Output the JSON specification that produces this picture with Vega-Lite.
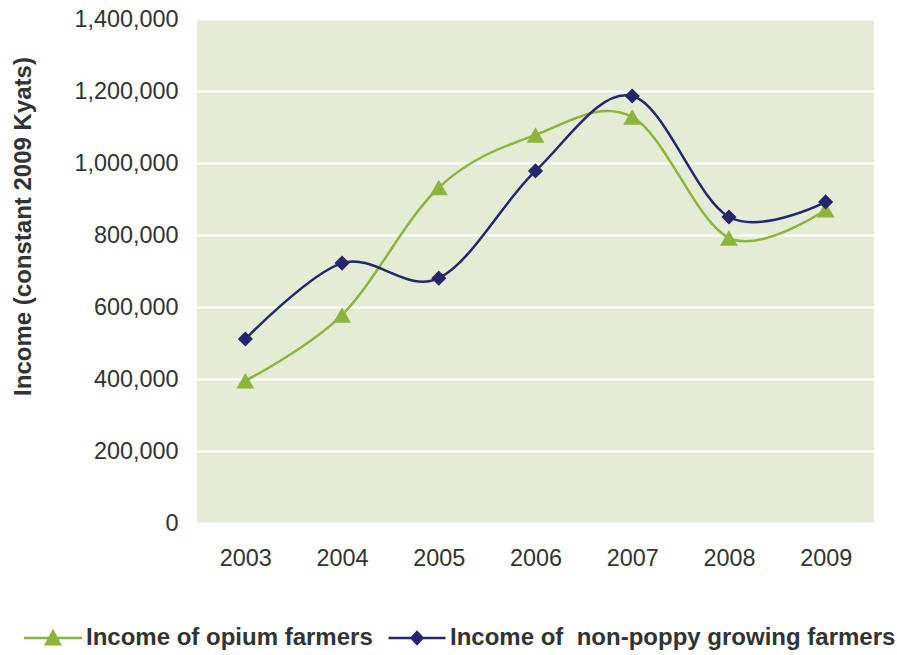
{
  "$schema": "https://vega.github.io/schema/vega-lite/v6.json",
  "width": 677,
  "height": 504,
  "autosize": "none",
  "padding": {"left": 197, "top": 19, "right": 23, "bottom": 132},
  "background": "white",
  "view": {"fill": "#E4ECD6", "stroke": null},
  "config": {
    "font": "Liberation Sans",
    "axis": {"labelColor": "#333333", "titleColor": "#333333"}
  },
  "data": {
    "values": [
      {"year": "2003", "series": "Income of opium farmers", "value": 395000},
      {"year": "2004", "series": "Income of opium farmers", "value": 578000},
      {"year": "2005", "series": "Income of opium farmers", "value": 932000},
      {"year": "2006", "series": "Income of opium farmers", "value": 1078000},
      {"year": "2007", "series": "Income of opium farmers", "value": 1128000},
      {"year": "2008", "series": "Income of opium farmers", "value": 792000},
      {"year": "2009", "series": "Income of opium farmers", "value": 870000},
      {"year": "2003", "series": "Income of\u00a0 non-poppy growing farmers", "value": 511000},
      {"year": "2004", "series": "Income of\u00a0 non-poppy growing farmers", "value": 722000},
      {"year": "2005", "series": "Income of\u00a0 non-poppy growing farmers", "value": 680000},
      {"year": "2006", "series": "Income of\u00a0 non-poppy growing farmers", "value": 978000},
      {"year": "2007", "series": "Income of\u00a0 non-poppy growing farmers", "value": 1186000},
      {"year": "2008", "series": "Income of\u00a0 non-poppy growing farmers", "value": 850000},
      {"year": "2009", "series": "Income of\u00a0 non-poppy growing farmers", "value": 892000}
    ]
  },
  "encoding": {
    "x": {
      "field": "year",
      "type": "ordinal",
      "sort": null,
      "axis": {
        "title": null,
        "labelAngle": 0,
        "labelFontSize": 23.4,
        "labelPadding": 24,
        "ticks": false,
        "tickSize": 0,
        "domain": false,
        "grid": false
      }
    },
    "y": {
      "field": "value",
      "type": "quantitative",
      "scale": {"domain": [0, 1400000], "nice": false, "zero": true},
      "axis": {
        "title": "Income (constant 2009 Kyats)",
        "titleFontSize": 24,
        "titleFontWeight": "bold",
        "titleX": -174,
        "titleY": 207,
        "titleAngle": -90,
        "titleBaseline": "middle",
        "titleAlign": "center",
        "values": [0, 200000, 400000, 600000, 800000, 1000000, 1200000, 1400000],
        "format": ",d",
        "labelFontSize": 23.4,
        "labelPadding": 19,
        "ticks": false,
        "tickSize": 0,
        "domain": false,
        "grid": true,
        "gridColor": "#FFFFFF",
        "gridWidth": 2.2,
        "gridOpacity": 1
      }
    }
  },
  "layer": [
    {
      "mark": {"type": "line", "interpolate": "cardinal", "strokeWidth": 2.5},
      "encoding": {
        "color": {
          "field": "series",
          "type": "nominal",
          "scale": {
            "domain": ["Income of opium farmers", "Income of\u00a0 non-poppy growing farmers"],
            "range": ["#8DB53C", "#26266C"]
          },
          "legend": {
            "title": null,
            "orient": "none",
            "direction": "horizontal",
            "legendX": -156,
            "legendY": 607,
            "padding": 0,
            "symbolSize": 400,
            "symbolStrokeWidth": 0,
            "labelOffset": 21,
            "columnPadding": 15,
            "labelFontSize": 24,
            "labelFontWeight": "bold",
            "labelColor": "#333333",
            "labelLimit": 1000,
            "encode": {
              "symbols": {
                "update": {
                  "shape": {"signal": "indexof(datum.value, 'opium') >= 0 ? 'M-2.9,-0.13H2.9V0.13H-2.9Z M0,-0.95L0.9,0.75L-0.9,0.75Z' : 'M-2.85,-0.13H2.85V0.13H-2.85Z M0,-0.78L0.72,0L0,0.78L-0.72,0Z'"},
                  "fill": {"signal": "scale('color', datum.value)"},
                  "stroke": {"value": "transparent"},
                  "strokeWidth": {"value": 0},
                  "size": {"value": 400},
                  "opacity": {"value": 1}
                }
              }
            }
          }
        }
      }
    },
    {
      "transform": [{"filter": "datum.series === 'Income of opium farmers'"}],
      "mark": {"type": "point", "shape": "triangle-up", "filled": true, "size": 320, "color": "#8DB53C", "opacity": 1}
    },
    {
      "transform": [{"filter": "datum.series !== 'Income of opium farmers'"}],
      "mark": {"type": "point", "shape": "diamond", "filled": true, "size": 230, "color": "#26266C", "opacity": 1}
    }
  ]
}
